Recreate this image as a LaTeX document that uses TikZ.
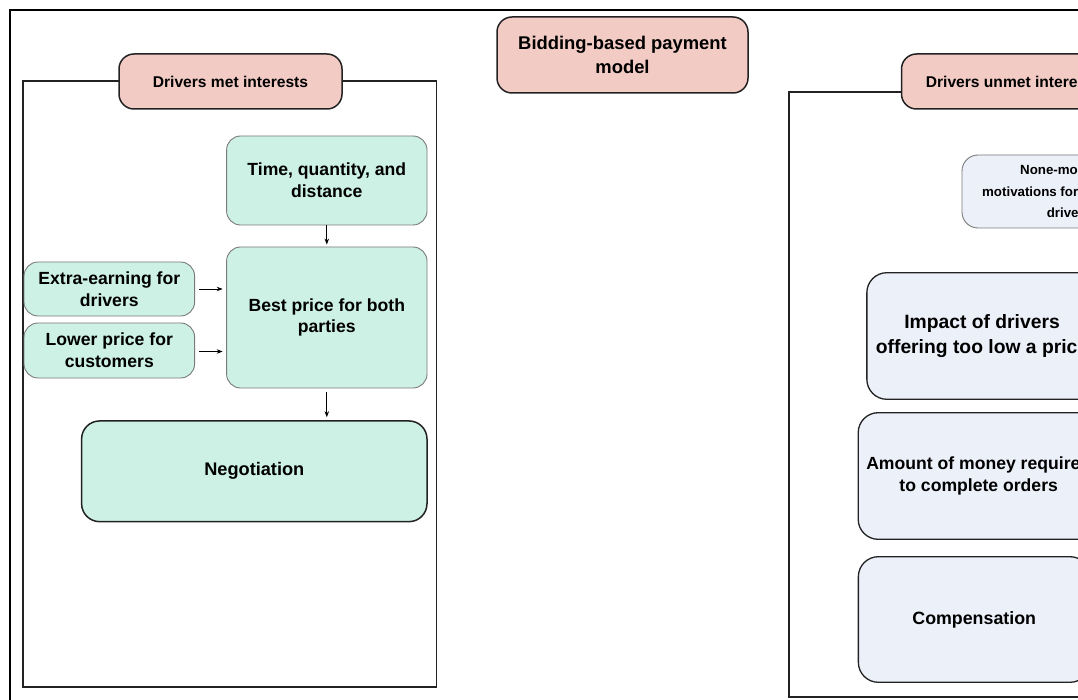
\documentclass[tikz,border=0pt]{standalone}
\usepackage{fontspec}
\setmainfont{Liberation Sans}
\usetikzlibrary{arrows.meta}

\definecolor{tealfill}{HTML}{CDF1E5}
\definecolor{pinkfill}{HTML}{F2CBC4}
\definecolor{bluefill}{HTML}{ECF0F9}
\definecolor{softline}{HTML}{7A7A7A}
\definecolor{darkline}{HTML}{222222}

\tikzset{
  fnt/.style 2 args={font=\bfseries\fontsize{#1}{#2}\selectfont},
  box/.style={rectangle, rounded corners=14pt, align=center, inner sep=0pt},
  titlebox/.style={box, fill=pinkfill, draw=darkline, line width=1.5pt, rounded corners=15pt},
  metbox/.style={box, fill=tealfill, draw=softline, line width=0.9pt},
  metkey/.style={box, fill=tealfill, draw=darkline, line width=1.5pt, rounded corners=18pt},
  unmetbox/.style={box, fill=bluefill, draw=softline, line width=0.9pt, rounded corners=16pt},
  unmetkey/.style={box, fill=bluefill, draw=darkline, line width=1.3pt, rounded corners=20pt},
  frame/.style={draw=darkline, line width=1.4pt},
  arr/.style={-{Stealth[length=6pt,width=4.5pt]}, line width=0.8pt, black},
}

\begin{document}
\begin{tikzpicture}[x=1pt, y=-1pt]
  \useasboundingbox (0,0) rectangle (1078,700);
  \fill[white] (0,0) rectangle (1078,700);
  \clip (0,0) rectangle (1078,700);

  % outer frame
  \draw[line width=2.4pt, black] (10,720) -- (10,10) -- (1100,10);

  % group containers
  \draw[frame] (23,81) rectangle (436.5,687);
  \draw[frame] (789,92) rectangle (1240,697);

  % headings
  \node[titlebox, fnt={18.4}{24.5}, minimum width=251pt, minimum height=76pt] (bid) at (622.5,55)
    {Bidding-based payment\\model};
  \node[titlebox, fnt={15.6}{19}, minimum width=223pt, minimum height=55pt] (met) at (230.5,81.5)
    {Drivers met interests};
  \node[titlebox, fnt={15.6}{19}, minimum width=223pt, minimum height=55pt] (unmet) at (1013,81.5)
    {Drivers unmet interests};

  % met interests
  \node[metbox, fnt={17.6}{21.7}, minimum width=200.4pt, minimum height=89pt] (time) at (326.8,180.5)
    {Time, quantity, and\\distance};
  \node[metbox, fnt={17.6}{21.7}, minimum width=200.4pt, minimum height=141pt] (best) at (326.8,317.5)
    {Best price for both\\parties};
  \node[metbox, fnt={17.6}{21.7}, minimum width=170.6pt, minimum height=54pt] (extra) at (109.3,289)
    {Extra-earning for\\drivers};
  \node[metbox, fnt={17.6}{21.7}, minimum width=170.6pt, minimum height=55pt] (lower) at (109.3,350.5)
    {Lower price for\\customers};
  \node[metkey, fnt={18.2}{22}, minimum width=345.4pt, minimum height=100.7pt] (nego) at (254.3,471.3)
    {Negotiation};

  \draw[arr, shorten >=2pt] (time.south) -- (best.north);
  \draw[arr, shorten <=4pt, shorten >=3.5pt] (extra.east) -- (extra.east -| best.west);
  \draw[arr, shorten <=4pt, shorten >=3.5pt] ([yshift=-1pt]lower.east) -- ([yshift=-1pt]lower.east -| best.west);
  \draw[arr, shorten <=4pt, shorten >=3pt] (best.south) -- (best.south |- nego.north);

  % unmet interests
  \node[unmetbox, fnt={13.3}{21.7}, minimum width=214pt, minimum height=73pt] (none) at (1069,191.5)
    {None-monetary\\motivations for the delivery\\drivers};
  \node[unmetkey, fnt={19.3}{25.5}, minimum width=230.3pt, minimum height=126.6pt] (impact) at (982,336)
    {Impact of drivers\\offering too low a price};
  \node[unmetkey, fnt={17.6}{21.7}, minimum width=241pt, minimum height=126.6pt] (amount) at (978.7,476)
    {Amount of money required\\to complete orders};
  \node[unmetkey, fnt={17.8}{22}, minimum width=231.7pt, minimum height=125.6pt] (comp) at (974.2,619.5)
    {Compensation};
\end{tikzpicture}
\end{document}
